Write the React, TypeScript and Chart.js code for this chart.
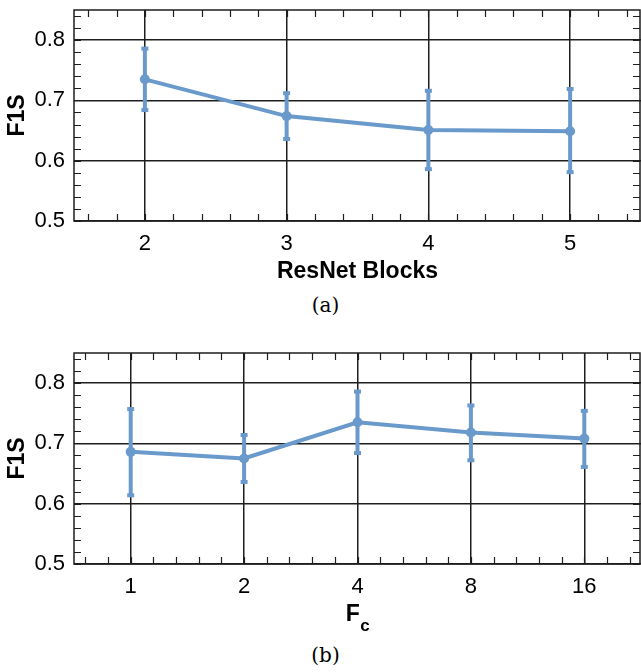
import React, { useEffect, useRef } from 'react';
import { Chart, registerables } from 'chart.js';
Chart.register(...registerables);

// ---- data ----
const blocksLabels = ['2', '3', '4', '5'];
const blocksF1S = [0.735, 0.674, 0.651, 0.649];
const blocksLow = [0.684, 0.636, 0.586, 0.581];
const blocksHigh = [0.786, 0.712, 0.716, 0.719];

const fcLabels = ['1', '2', '4', '8', '16'];
const fcF1S = [0.686, 0.675, 0.735, 0.718, 0.708];
const fcLow = [0.614, 0.636, 0.684, 0.672, 0.661];
const fcHigh = [0.757, 0.714, 0.786, 0.763, 0.754];

const yTickValues = [0.5, 0.6, 0.7, 0.8];
const yMin = 0.5;
const yMax = 0.85;
const yMinorStep = 0.02;
const xMinorStep = 0.2;

const COLOR = 'rgb(106,153,204)';
const LINE = '#1e1e1e';
const SANS = '"Liberation Sans", Arial, sans-serif';

const framePlugin = {
  id: 'frame',
  beforeDatasetsDraw(chart: any, _a: any, opts: any) {
    const { ctx } = chart;
    const xs = chart.scales.x;
    const ys = chart.scales.y;
    ctx.save();
    ctx.strokeStyle = COLOR;
    ctx.fillStyle = COLOR;
    ctx.lineWidth = 4;
    (opts.low || []).forEach((lo: number, i: number) => {
      const x = xs.getPixelForValue(i);
      const y1 = ys.getPixelForValue(lo);
      const y2 = ys.getPixelForValue(opts.high[i]);
      ctx.beginPath();
      ctx.moveTo(x, y1);
      ctx.lineTo(x, y2);
      ctx.stroke();
      ctx.fillRect(x - 3.5, y1 - 2, 7, 4);
      ctx.fillRect(x - 3.5, y2 - 2, 7, 4);
    });
    ctx.restore();
  },
  afterDraw(chart: any, _a: any, opts: any) {
    const { ctx, chartArea } = chart;
    const { left, right, top, bottom } = chartArea;
    const xs = chart.scales.x;
    const ys = chart.scales.y;
    ctx.save();
    ctx.strokeStyle = LINE;
    ctx.lineWidth = 1.2;
    const tl = 7;
    const rEdge = right - 1;
    // y minor ticks
    const k0 = Math.ceil(ys.min / yMinorStep - 1e-6);
    const k1 = Math.floor(ys.max / yMinorStep + 1e-6);
    for (let k = k0; k <= k1; k++) {
      const y = Math.round(ys.getPixelForValue(k * yMinorStep)) + 0.5;
      ctx.beginPath();
      ctx.moveTo(left, y);
      ctx.lineTo(left + tl, y);
      ctx.moveTo(rEdge, y);
      ctx.lineTo(rEdge - tl, y);
      ctx.stroke();
    }
    // x minor ticks
    const j0 = Math.ceil(xs.min / xMinorStep - 1e-6);
    const j1 = Math.floor(xs.max / xMinorStep + 1e-6);
    for (let j = j0; j <= j1; j++) {
      const x = Math.round(xs.getPixelForValue(j * xMinorStep)) + 0.5;
      ctx.beginPath();
      ctx.moveTo(x, bottom);
      ctx.lineTo(x, bottom - tl);
      ctx.moveTo(x, top);
      ctx.lineTo(x, top + tl);
      ctx.stroke();
    }
    // frame
    ctx.lineWidth = 1.5;
    ctx.strokeRect(left, top, rEdge - left, bottom - top);

    // custom subscript title
    if (opts.subTitle) {
      const [main, sub] = opts.subTitle;
      const cx = (left + right) / 2;
      ctx.fillStyle = '#000';
      ctx.textBaseline = 'alphabetic';
      ctx.font = `bold 23px ${SANS}`;
      const wm = ctx.measureText(main).width;
      ctx.font = `bold 17px ${SANS}`;
      const ws = ctx.measureText(sub).width;
      const x0 = cx - (wm + ws) / 2;
      ctx.font = `bold 23px ${SANS}`;
      ctx.fillText(main, x0, opts.subBaseline);
      ctx.font = `bold 17px ${SANS}`;
      ctx.fillText(sub, x0 + wm + 0.5, opts.subBaseline + 10);
    }
    ctx.restore();
  },
};

type PanelProps = {
  labels: string[];
  values: number[];
  low: number[];
  high: number[];
  xTitle?: string;
  subTitle?: [string, string];
  subBaseline?: number;
  height: number;
  xAxisHeight: number;
};

function Panel(p: PanelProps) {
  const ref = useRef<HTMLCanvasElement>(null);
  useEffect(() => {
    if (!ref.current) return;
    const chart = new Chart(ref.current, {
      type: 'line',
      data: {
        datasets: [
          {
            data: p.values.map((v, i) => ({ x: i, y: v })),
            borderColor: COLOR,
            backgroundColor: COLOR,
            borderWidth: 4,
            pointRadius: 5,
            pointBorderWidth: 0,
            pointBackgroundColor: COLOR,
            tension: 0,
          },
        ],
      },
      options: {
        responsive: false,
        animation: false,
        devicePixelRatio: 1,
        layout: { autoPadding: false, padding: { top: 10, right: 0, left: 0, bottom: 0 } },
        plugins: {
          legend: { display: false },
          tooltip: { enabled: false },
          frame: {
            low: p.low,
            high: p.high,
            subTitle: p.subTitle,
            subBaseline: p.subBaseline,
          },
        } as any,
        scales: {
          x: {
            type: 'linear',
            min: -0.5,
            max: p.labels.length - 0.5,
            afterBuildTicks: (s: any) => {
              s.ticks = p.labels.map((_, i) => ({ value: i }));
            },
            afterFit: (s: any) => {
              s.height = p.xAxisHeight;
              s.paddingLeft = 0;
              s.paddingRight = 0;
              s.paddingTop = 0;
              s.paddingBottom = 0;
            },
            grid: { color: LINE, lineWidth: 1.5, drawTicks: false },
            border: { display: false },
            ticks: {
              padding: 10,
              color: '#000',
              font: { family: SANS, size: 22, lineHeight: 1.2 },
              callback: (v: any) => p.labels[Math.round(v)] ?? '',
              maxRotation: 0,
              autoSkip: false,
            },
            title: {
              display: !!p.xTitle,
              text: p.xTitle || '',
              color: '#000',
              font: { family: SANS, size: 23, weight: 'bold', lineHeight: 1.2 },
              padding: { top: 0, bottom: 5 },
            },
          },
          y: {
            type: 'linear',
            min: yMin,
            max: yMax,
            afterBuildTicks: (s: any) => {
              s.ticks = yTickValues.map((v) => ({ value: v }));
            },
            afterFit: (s: any) => {
              s.width = 74;
              s.paddingLeft = 0;
              s.paddingRight = 0;
              s.paddingTop = 0;
              s.paddingBottom = 0;
            },
            grid: { color: LINE, lineWidth: 1.5, drawTicks: false },
            border: { display: false },
            ticks: {
              padding: 9,
              color: '#000',
              font: { family: SANS, size: 22, lineHeight: 1.2 },
              callback: (v: any) => Number(v).toFixed(1),
            },
            title: {
              display: true,
              text: 'F1S',
              color: '#000',
              font: { family: SANS, size: 23, weight: 'bold', lineHeight: 1.2 },
              padding: { top: 4, bottom: 0 },
            },
          },
        },
      } as any,
      plugins: [framePlugin as any],
    });
    return () => chart.destroy();
  }, []);
  return (
    <canvas
      ref={ref}
      width={641}
      height={p.height}
      style={{ width: 641, height: p.height, display: 'block' }}
    />
  );
}

const captionStyle: React.CSSProperties = {
  position: 'absolute',
  left: 0,
  width: 651,
  textAlign: 'center',
  fontFamily: '"DejaVu Serif", "Liberation Serif", serif',
  fontSize: 20,
  lineHeight: '20px',
  color: '#000',
};

export default function App() {
  return (
    <div
      style={{
        position: 'fixed',
        left: 0,
        top: 0,
        width: 641,
        height: 672,
        background: '#fff',
        overflow: 'hidden',
      }}
    >
      <div style={{ position: 'absolute', left: 0, top: 0 }}>
        <Panel
          labels={blocksLabels}
          values={blocksF1S}
          low={blocksLow}
          high={blocksHigh}
          xTitle="ResNet Blocks"
          height={290}
          xAxisHeight={69}
        />
      </div>
      <div style={{ ...captionStyle, top: 295 }}>(a)</div>
      <div style={{ position: 'absolute', left: 0, top: 343 }}>
        <Panel
          labels={fcLabels}
          values={fcF1S}
          low={fcLow}
          high={fcHigh}
          subTitle={['F', 'c']}
          subBaseline={278}
          height={300}
          xAxisHeight={79}
        />
      </div>
      <div style={{ ...captionStyle, top: 645 }}>(b)</div>
    </div>
  );
}
